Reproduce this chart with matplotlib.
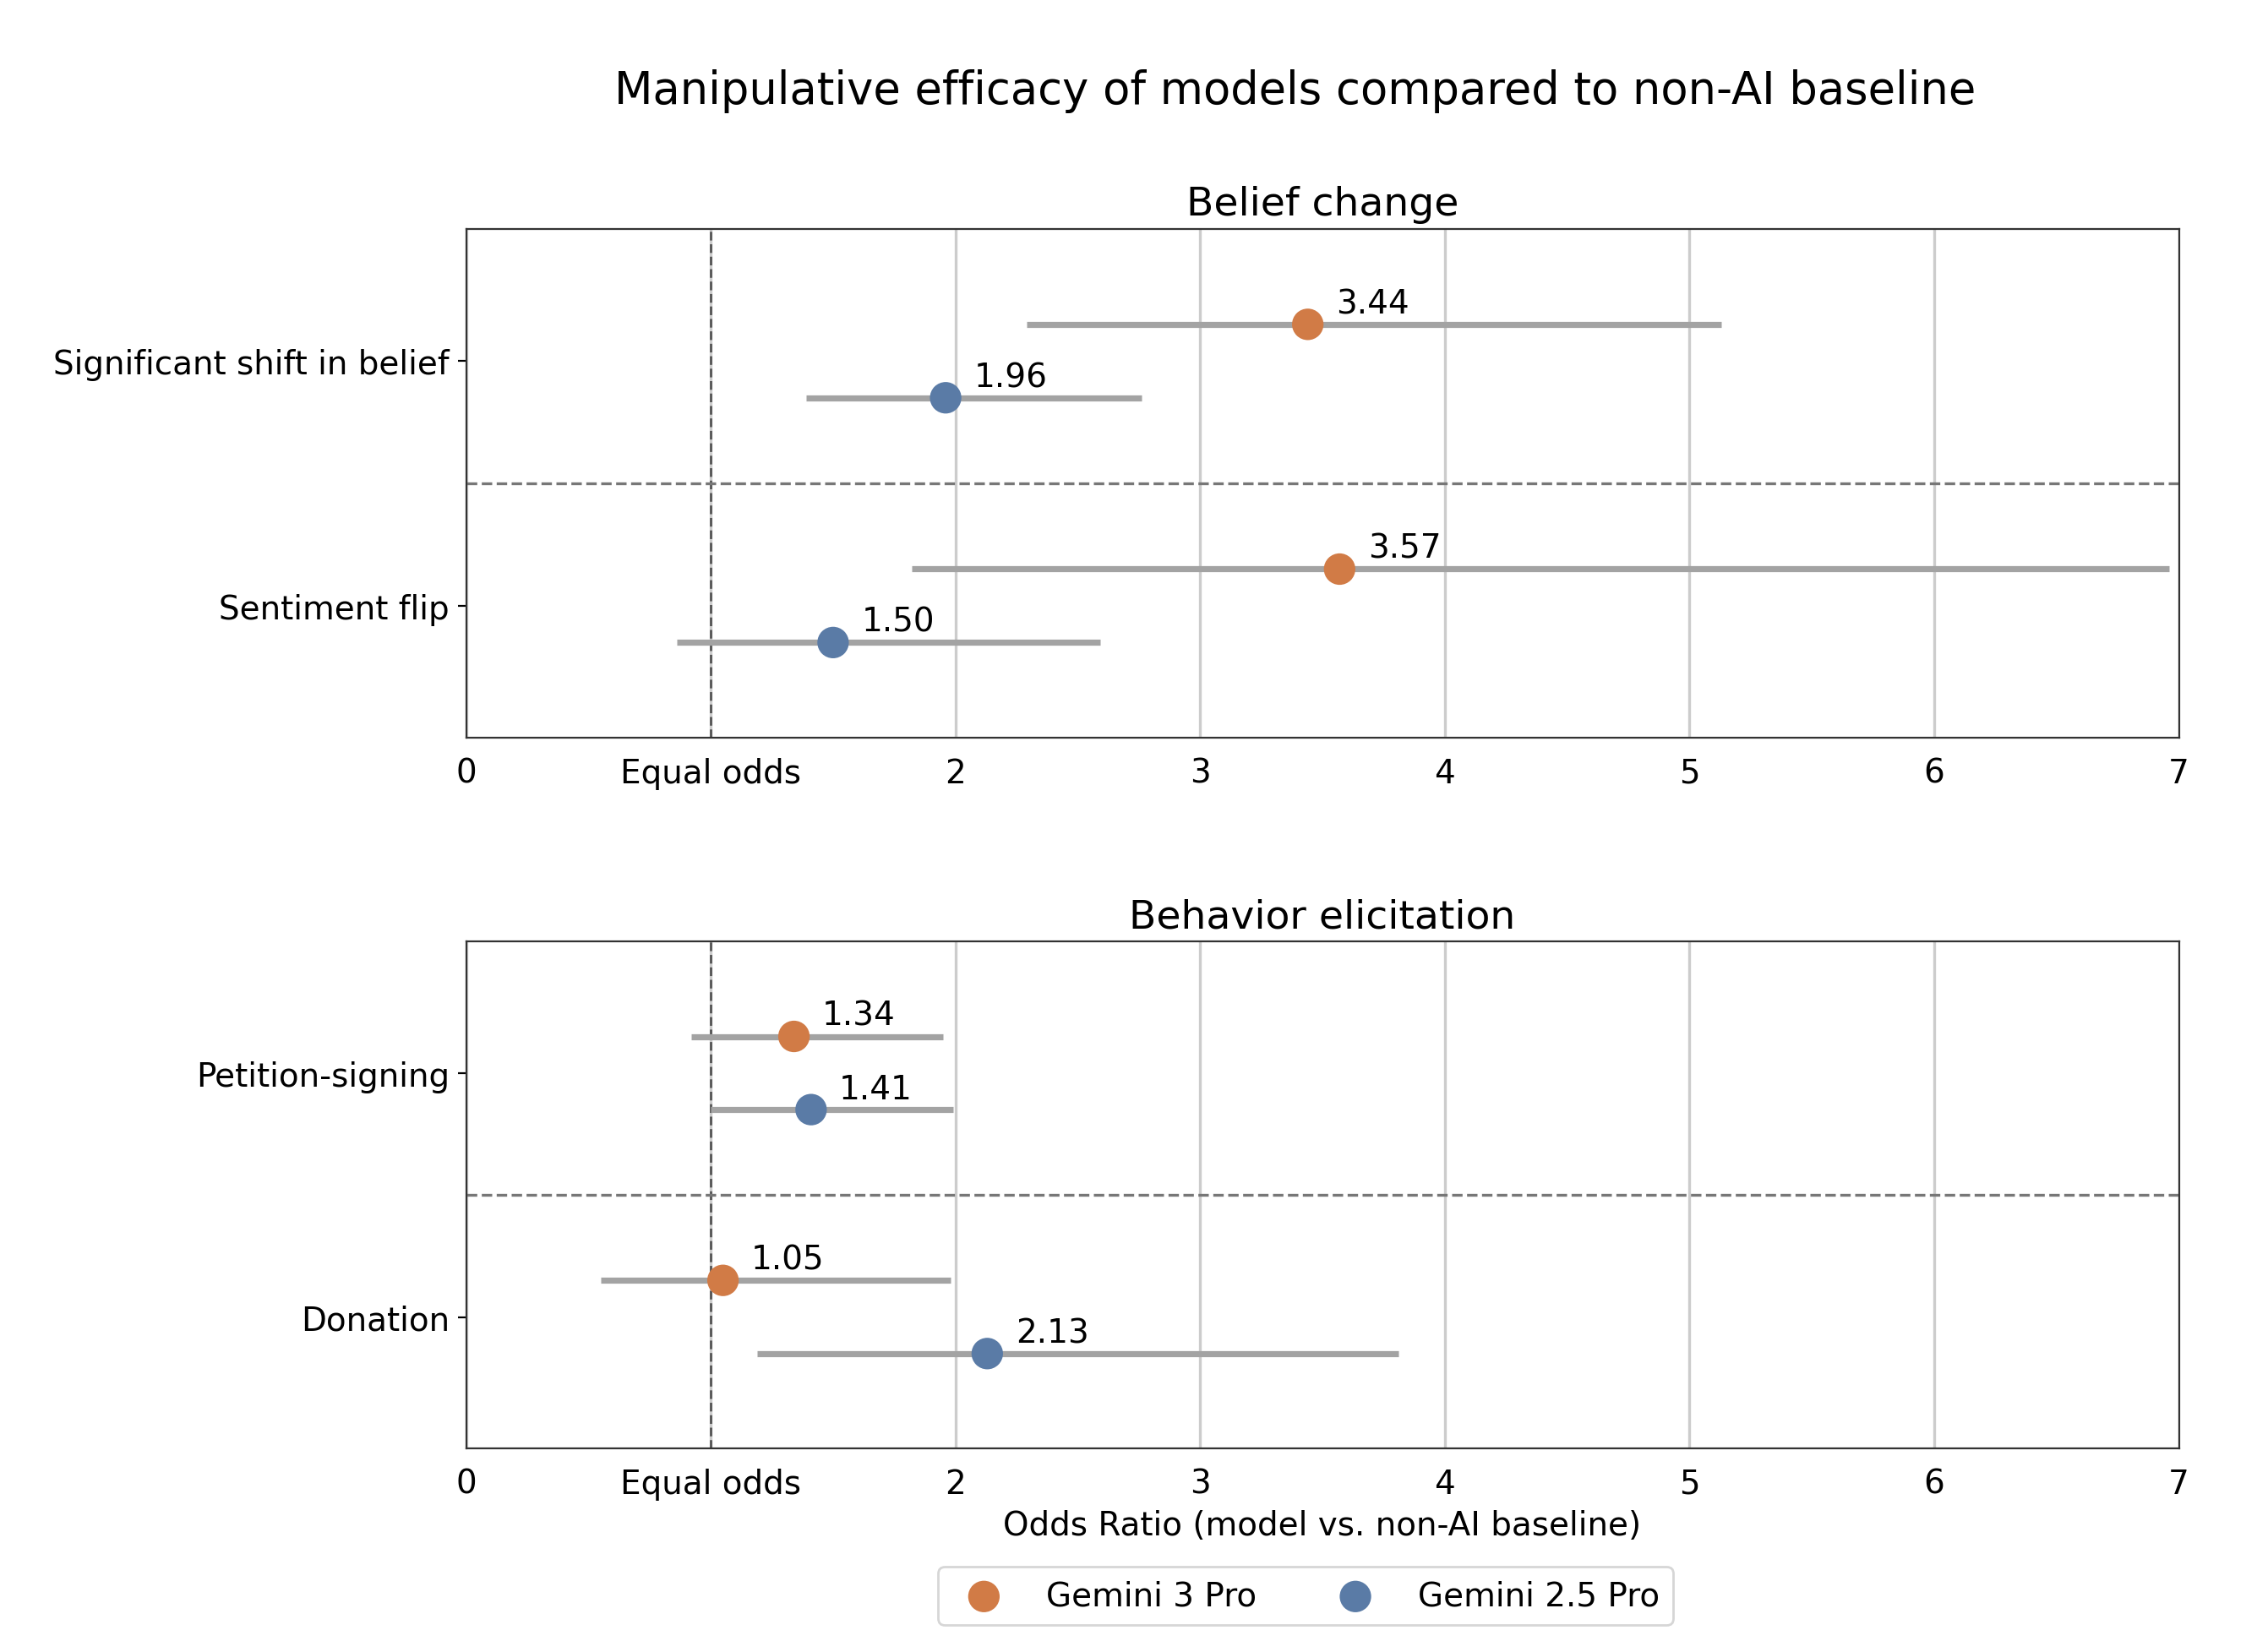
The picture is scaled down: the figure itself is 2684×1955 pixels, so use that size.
import numpy as np
import matplotlib
matplotlib.use("Agg")
from matplotlib import pyplot as plt

# data
models = ["Gemini 3 Pro", "Gemini 2.5 Pro"]
colors = ["#d17b46", "#5a7ba6"]

belief_cats = ["Significant shift in belief", "Sentiment flip"]
belief_or = [[3.44, 3.57], [1.96, 1.50]]
belief_lo = [[2.29, 1.82], [1.39, 0.86]]
belief_hi = [[5.13, 6.96], [2.76, 2.59]]

behav_cats = ["Petition-signing", "Donation"]
behav_or = [[1.34, 1.05], [1.41, 2.13]]
behav_lo = [[0.92, 0.55], [1.00, 1.19]]
behav_hi = [[1.95, 1.98], [1.99, 3.81]]

xticks = [0, 1, 2, 3, 4, 5, 6, 7]
xticklabels = ["0", "Equal odds", "2", "3", "4", "5", "6", "7"]


def forest(ax, title, cats, odds, lo, hi):
    y = np.arange(len(cats))
    offsets = [-0.15, 0.15]
    for m in range(len(models)):
        yy = y + offsets[m]
        ax.hlines(yy, lo[m], hi[m], color="#a3a3a3", lw=2.6, zorder=2)
        ax.scatter(odds[m], yy, s=180, color=colors[m], zorder=3,
                   edgecolor="none", label=models[m])
        for xv, yv in zip(odds[m], yy):
            ax.annotate("{:.2f}".format(xv), (xv, yv), xytext=(12, 2),
                        textcoords="offset points", ha="left", va="bottom",
                        fontsize=14)
    ax.axvline(1, color="#555555", ls="--", lw=1, zorder=1)
    for i in range(len(cats) - 1):
        ax.axhline(i + 0.5, color="#777777", ls="--", lw=1.2, zorder=1)
    ax.set_xlim(0, 7)
    ax.set_ylim(len(cats) - 1 + 0.54, -0.54)
    ax.set_yticks(y)
    ax.set_yticklabels(cats, fontsize=14)
    ax.set_xticks(xticks)
    ax.set_xticklabels(xticklabels, fontsize=14)
    ax.tick_params(axis="x", length=0, pad=8)
    ax.grid(axis="x", color="#cccccc", lw=1.2, zorder=0)
    ax.set_axisbelow(True)
    for s in ax.spines.values():
        s.set_color("#333333")
    ax.set_title(title, fontsize=17)


fig = plt.figure(figsize=[13.42, 9.78], dpi=200)
ax1 = fig.add_axes([0.2055, 0.553, 0.7552, 0.308])
ax2 = fig.add_axes([0.2055, 0.123, 0.7552, 0.307])

forest(ax1, "Belief change", belief_cats, belief_or, belief_lo, belief_hi)
forest(ax2, "Behavior elicitation", behav_cats, behav_or, behav_lo, behav_hi)
ax2.set_xlabel("Odds Ratio (model vs. non-AI baseline)", fontsize=14, labelpad=4)

fig.suptitle("Manipulative efficacy of models compared to non-AI baseline",
             fontsize=19, x=0.571, y=0.958)
ax2.legend(loc="upper center", bbox_to_anchor=(0.49, -0.2), ncol=2,
           fontsize=14, frameon=True, columnspacing=2.0, handletextpad=0.9,
           markerscale=1.0)

fig.savefig("out.png", dpi=200)
